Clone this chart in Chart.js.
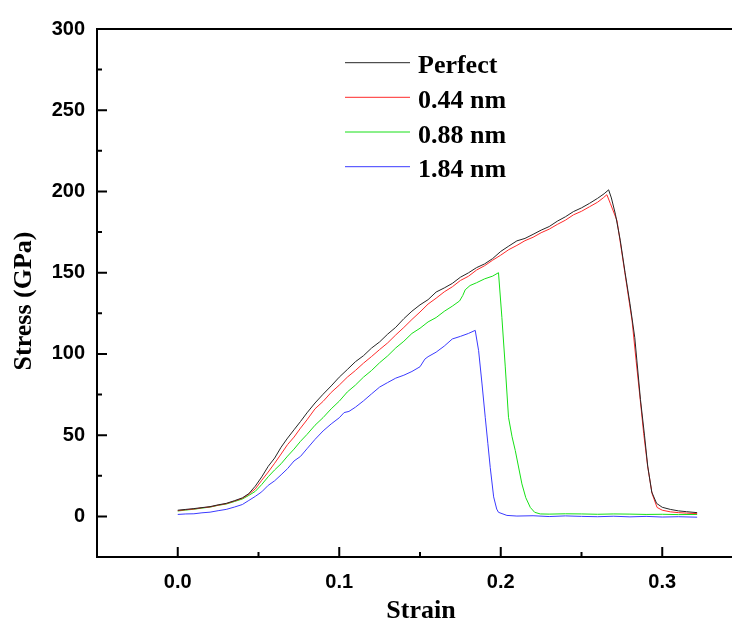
<!DOCTYPE html>
<html>
<head>
<meta charset="utf-8">
<script src="https://cdn.jsdelivr.net/npm/chart.js@4/dist/chart.umd.min.js"></script>
<style>
html,body{margin:0;padding:0;overflow:hidden;background:#fff;}
#wrap{width:732px;height:624px;overflow:hidden;}
canvas{display:block;}
</style>
</head>
<body>
<div id="wrap"><canvas id="c" width="744" height="624"></canvas></div>
<script>
// ---- data ----
const seriesNames = ['Perfect', '0.44 nm', '0.88 nm', '1.84 nm'];

const strainPerfect = [0,0.005,0.01,0.015,0.02,0.025,0.03,0.035,0.04,0.044,0.048,0.052,0.056,0.06,0.064,0.068,0.072,0.076,0.08,0.085,0.09,0.095,0.1,0.105,0.11,0.115,0.12,0.125,0.13,0.135,0.14,0.145,0.15,0.155,0.16,0.165,0.17,0.175,0.18,0.185,0.19,0.195,0.2,0.205,0.21,0.215,0.22,0.225,0.23,0.235,0.24,0.245,0.25,0.255,0.26,0.264,0.2668,0.2685,0.271,0.274,0.277,0.28,0.283,0.2865,0.289,0.291,0.2935,0.2965,0.3,0.305,0.31,0.315,0.3216];
const stressPerfect = [3.8,4.3,4.8,5.4,6.0,7.1,8.0,9.6,11.4,14.0,18.6,24.3,30.8,35.9,42.6,48.2,53.3,58.4,63.7,69.8,75.2,80.3,85.7,90.4,95.2,98.9,103.6,107.4,112.2,116.4,121.7,126.3,130.2,133.4,138.1,140.6,143.4,147.2,149.9,153.1,155.4,158.7,163.1,166.4,169.6,171.1,173.6,176.2,178.4,181.7,184.4,187.6,189.9,192.7,195.8,198.6,201.0,196.0,186.0,170.0,150.0,131.0,110.0,72.0,50.0,31.0,15.0,8.0,5.6,4.3,3.4,2.9,2.3];

const strain044 = [0,0.005,0.01,0.015,0.02,0.025,0.03,0.035,0.04,0.044,0.048,0.052,0.056,0.06,0.064,0.068,0.072,0.076,0.08,0.085,0.09,0.095,0.1,0.105,0.11,0.115,0.12,0.125,0.13,0.135,0.14,0.145,0.15,0.155,0.16,0.165,0.17,0.175,0.18,0.185,0.19,0.195,0.2,0.205,0.21,0.215,0.22,0.225,0.23,0.235,0.24,0.245,0.25,0.255,0.26,0.2635,0.2657,0.2679,0.272,0.2751,0.2782,0.2813,0.2838,0.2864,0.2885,0.291,0.2937,0.2968,0.3,0.305,0.31,0.315,0.3216];
const stress044 = [3.5,4.1,4.5,5.3,5.8,6.9,7.8,9.4,11.1,13.6,16.9,22.2,27.3,32.7,38.4,44.2,48.8,54.3,59.4,66.2,70.8,76.3,80.8,85.7,89.8,94.3,98.4,102.7,106.8,111.7,116.3,121.2,125.8,130.7,134.3,138.2,141.3,145.2,147.8,151.6,154.3,157.7,160.8,164.2,166.8,169.7,171.8,174.6,176.8,179.7,182.3,185.6,187.8,190.6,193.4,196.1,198.0,192.5,182.0,161.5,141.0,120.5,96.0,71.5,51.0,30.5,14.0,5.5,3.8,2.8,2.3,2.0,1.7];

const strain088 = [0,0.005,0.01,0.015,0.02,0.025,0.03,0.035,0.04,0.044,0.048,0.052,0.056,0.06,0.064,0.068,0.072,0.076,0.08,0.085,0.09,0.095,0.1,0.105,0.11,0.115,0.12,0.125,0.13,0.135,0.14,0.145,0.15,0.155,0.16,0.165,0.17,0.1745,0.1765,0.178,0.181,0.185,0.19,0.195,0.1986,0.2007,0.2028,0.2048,0.207,0.209,0.2131,0.2155,0.2183,0.221,0.2245,0.23,0.24,0.25,0.26,0.27,0.28,0.29,0.3,0.31,0.3216];
const stress088 = [3.3,3.9,4.4,5.1,5.7,6.8,7.6,9.1,10.7,12.9,15.4,19.6,24.4,28.6,32.4,37.1,41.4,46.2,50.4,56.1,60.8,66.2,70.9,76.6,80.8,85.7,89.8,94.6,98.8,103.7,107.8,112.6,115.8,119.7,122.4,126.2,129.4,132.6,136.0,139.5,142.1,143.8,146.2,147.9,150.0,122.5,92.0,61.0,49.0,40.5,20.0,11.5,5.5,2.5,1.5,1.4,1.6,1.5,1.3,1.5,1.4,1.2,1.3,1.1,1.2];

const strain184 = [0,0.005,0.01,0.015,0.02,0.025,0.03,0.035,0.04,0.044,0.048,0.052,0.056,0.06,0.064,0.068,0.072,0.076,0.08,0.085,0.09,0.095,0.1,0.103,0.106,0.11,0.115,0.12,0.125,0.13,0.135,0.14,0.145,0.15,0.153,0.155,0.16,0.165,0.17,0.175,0.18,0.1842,0.1863,0.1884,0.1904,0.192,0.1935,0.1956,0.1975,0.1986,0.2038,0.21,0.22,0.23,0.24,0.25,0.26,0.27,0.28,0.29,0.3,0.31,0.3216];
const stress184 = [1.2,1.5,1.6,2.2,2.6,3.5,4.3,5.7,7.3,9.8,12.3,15.1,19.1,21.9,25.6,29.4,34.1,36.9,41.6,47.4,52.6,56.9,60.7,63.9,64.6,67.2,71.1,75.4,79.6,82.4,85.1,86.9,89.2,92.1,96.8,98.3,101.1,104.8,109.2,110.8,112.6,114.5,102.0,81.5,61.0,45.0,30.0,12.0,4.5,2.5,0.6,0.2,0.4,-0.1,0.3,0.0,-0.2,0.1,-0.3,0.0,-0.4,-0.2,-0.5];

const seriesColors = ['#262626', '#ff2a2a', '#16e016', '#3a3aff'];

const xTickValues = [0, 0.1, 0.2, 0.3];
const xMinorValues = [-0.05, 0.05, 0.15, 0.25, 0.35];
const yTickValues = [0, 50, 100, 150, 200, 250, 300];
const yMinorValues = [-25, 25, 75, 125, 175, 225, 275];

const xTitle = 'Strain';
const yTitle = 'Stress (GPa)';

function pts(xs, ys){ return xs.map((x,i)=>({x:x, y:ys[i]})); }

const datasets = [
  [strainPerfect, stressPerfect],
  [strain044, stress044],
  [strain088, stress088],
  [strain184, stress184]
].map((p, i) => ({
  label: seriesNames[i],
  data: pts(p[0], p[1]),
  borderColor: seriesColors[i],
  backgroundColor: seriesColors[i],
  borderWidth: 1,
  pointRadius: 0,
  showLine: true,
  tension: 0,
  fill: false
}));

const framePlugin = {
  id: 'frame',
  afterDraw(chart){
    const ctx = chart.ctx, a = chart.chartArea;
    const xs = chart.scales.x, ys = chart.scales.y;
    ctx.save();
    ctx.strokeStyle = '#000';
    ctx.lineWidth = 2;
    ctx.beginPath();
    ctx.moveTo(a.right + 5, a.top);
    ctx.lineTo(a.left, a.top);
    ctx.lineTo(a.left, a.bottom);
    ctx.lineTo(a.right + 5, a.bottom);
    ctx.stroke();
    ctx.lineWidth = 2;
    ctx.beginPath();
    yTickValues.forEach(v => { const y = ys.getPixelForValue(v); ctx.moveTo(a.left, y); ctx.lineTo(a.left + 10, y); });
    yMinorValues.forEach(v => { const y = ys.getPixelForValue(v); ctx.moveTo(a.left, y); ctx.lineTo(a.left + 5, y); });
    xTickValues.forEach(v => { const x = xs.getPixelForValue(v); ctx.moveTo(x, a.bottom); ctx.lineTo(x, a.bottom - 10); });
    xMinorValues.forEach(v => { const x = xs.getPixelForValue(v); ctx.moveTo(x, a.bottom); ctx.lineTo(x, a.bottom - 5); });
    ctx.stroke();

    // axis titles
    ctx.fillStyle = '#000';
    ctx.font = 'bold 26px "Liberation Serif", "DejaVu Serif", serif';
    ctx.textAlign = 'center';
    ctx.textBaseline = 'middle';
    ctx.fillText(xTitle, 421, 611);
    ctx.save();
    ctx.translate(24, 301);
    ctx.rotate(-Math.PI/2);
    ctx.fillText(yTitle, 0, 0);
    ctx.restore();

    // legend
    const lx0 = 345, lx1 = 410, tx = 418;
    const ly = [62.7, 97.3, 132, 166.7];
    ctx.font = 'bold 26px "Liberation Serif", "DejaVu Serif", serif';
    ctx.textAlign = 'left';
    ctx.textBaseline = 'alphabetic';
    chart.data.datasets.forEach((d, i) => {
      ctx.strokeStyle = d.borderColor;
      ctx.lineWidth = 1;
      ctx.beginPath();
      ctx.moveTo(lx0, ly[i]);
      ctx.lineTo(lx1, ly[i]);
      ctx.stroke();
      ctx.fillStyle = '#000';
      ctx.fillText(d.label, tx, ly[i] + 10.6);
    });
    ctx.restore();
  }
};

new Chart(document.getElementById('c'), {
  type: 'scatter',
  data: { datasets },
  options: {
    responsive: false,
    devicePixelRatio: 1,
    animation: false,
    layout: { padding: { top: 29, right: 1, left: 0, bottom: 0 } },
    plugins: { legend: { display: false }, tooltip: { enabled: false } },
    scales: {
      x: {
        type: 'linear',
        min: -0.05, max: 0.35,
        afterFit(s){ s.height = 67; },
        afterBuildTicks(s){ s.ticks = xTickValues.map(v => ({value: v})); },
        grid: { display: false, drawTicks: false },
        border: { display: false },
        ticks: {
          padding: 13,
          color: '#000',
          font: { family: '"Liberation Sans", Arial, sans-serif', size: 20, weight: 'bold' },
          callback: v => Number(v).toFixed(1)
        }
      },
      y: {
        type: 'linear',
        min: -25, max: 300,
        afterFit(s){ s.width = 97; },
        afterBuildTicks(s){ s.ticks = yTickValues.map(v => ({value: v})); },
        grid: { display: false, drawTicks: false },
        border: { display: false },
        ticks: {
          padding: 12,
          color: '#000',
          font: { family: '"Liberation Sans", Arial, sans-serif', size: 20, weight: 'bold' },
          callback: v => String(v)
        }
      }
    }
  },
  plugins: [framePlugin]
});
</script>
</body>
</html>
